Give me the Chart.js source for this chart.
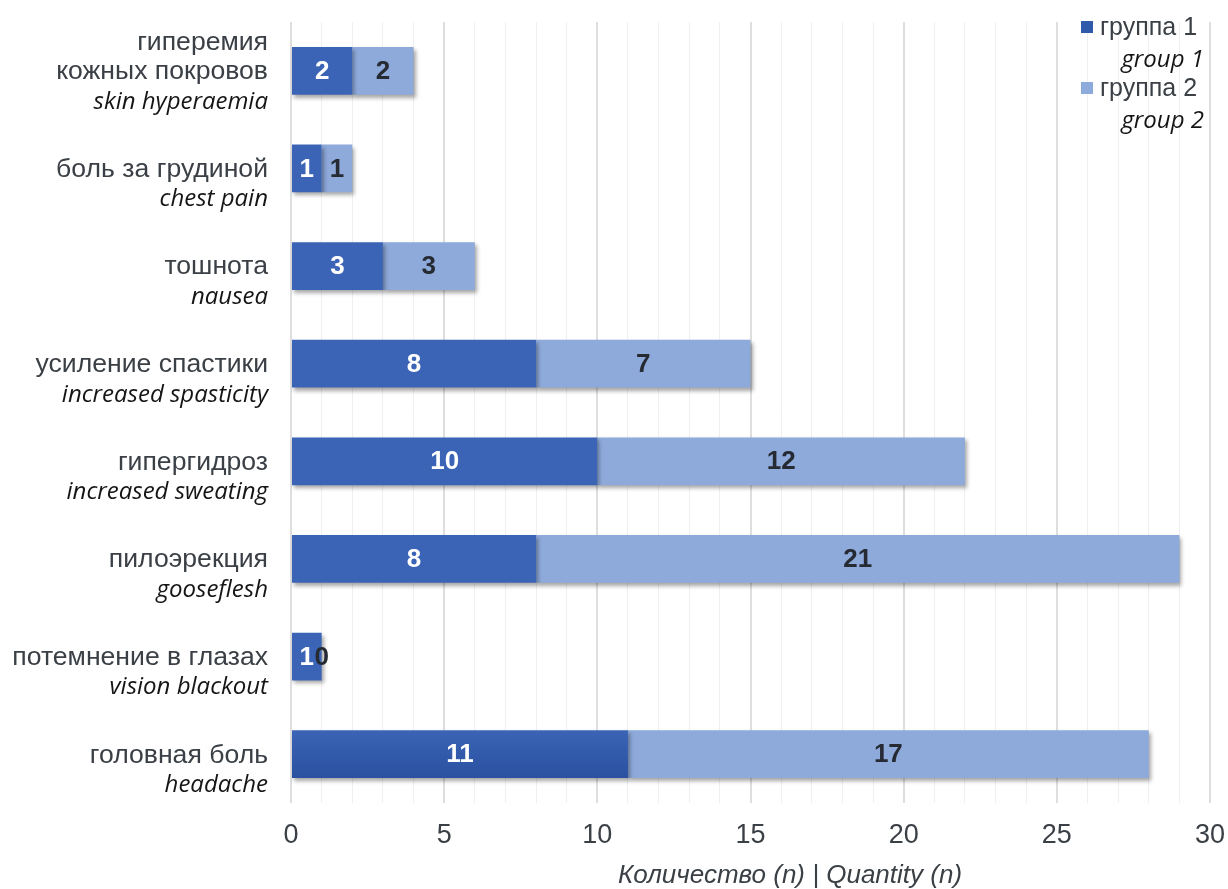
<!DOCTYPE html>
<html>
<head>
<meta charset="utf-8">
<script src="https://cdn.jsdelivr.net/npm/chart.js@4.4.1/dist/chart.umd.min.js"></script>
<style>
  body { margin: 0; background: #fff; }
  #wrap { width: 1228px; height: 889px; position: relative; }
</style>
</head>
<body>
<div id="wrap"><canvas id="chart"></canvas></div>
<script>
// categories, top to bottom
const labelsRu = [
    ['гиперемия', 'кожных покровов'],
    ['боль за грудиной'],
    ['тошнота'],
    ['усиление спастики'],
    ['гипергидроз'],
    ['пилоэрекция'],
    ['потемнение в глазах'],
    ['головная боль']
];
const labelsEn = ['skin hyperaemia', 'chest pain', 'nausea', 'increased spasticity',
    'increased sweating', 'gooseflesh', 'vision blackout', 'headache'];
const group1 = [2, 1, 3, 8, 10, 8, 1, 11];
const group2 = [2, 1, 3, 7, 12, 21, 0, 17];
const seriesRu = ['группа 1', 'группа 2'];
const seriesEn = ['group 1', 'group 2'];

const grayText = '#3b4046';
const darkBlue = '#2f59aa';
const lightBlue = '#8eaadb';
const sans = '"Liberation Sans", Arial, sans-serif';

// bar shadow + gradient on the dark series
const barStyle = {
    id: 'barStyle',
    beforeDatasetDraw(chart, args) {
        const ctx = chart.ctx;
        ctx.save();
        ctx.shadowColor = 'rgba(0,0,0,0.35)';
        ctx.shadowBlur = 4;
        ctx.shadowOffsetX = 2;
        ctx.shadowOffsetY = 3;
        if (args.index === 0) {
            args.meta.data.forEach(el => {
                const top = el.y - el.height / 2;
                const g = ctx.createLinearGradient(0, top, 0, top + el.height);
                g.addColorStop(0, '#3b64b6');
                g.addColorStop(1, '#2a51a0');
                el.options.backgroundColor = g;
            });
        }
    },
    afterDatasetDraw(chart) {
        chart.ctx.restore();
    }
};

const textStuff = {
    id: 'textStuff',
    afterDraw(chart) {
        const ctx = chart.ctx;
        const y = chart.scales.y;
        ctx.save();

        // category labels
        ctx.textAlign = 'right';
        ctx.textBaseline = 'middle';
        labelsRu.forEach((lines, i) => {
            const cy = y.getPixelForValue(i);
            ctx.font = '26.6px ' + sans;
            ctx.fillStyle = grayText;
            for (let k = 0; k < lines.length; k++) {
                ctx.fillText(lines[k], 268, cy - 29 * (lines.length - 1 - k) + 1);
            }
            ctx.font = 'italic 24px "Open Sans", sans-serif';
            ctx.fillStyle = '#151515';
            ctx.fillText(labelsEn[i], 268, cy + 31);
        });

        // value labels
        ctx.textAlign = 'center';
        ctx.font = 'bold 26px ' + sans;
        chart.data.datasets.forEach((ds, d) => {
            const meta = chart.getDatasetMeta(d);
            meta.data.forEach((el, i) => {
                const cx = (el.x + el.base) / 2;
                ctx.fillStyle = d === 0 ? '#ffffff' : '#262b33';
                ctx.fillText(String(ds.data[i]), cx, el.y + 1);
            });
        });

        // axis title
        ctx.font = 'italic 26px ' + sans;
        ctx.fillStyle = grayText;
        ctx.fillText('Количество (n) | Quantity (n)', 790, 876);

        // legend
        const colors = [darkBlue, lightBlue];
        [27, 88].forEach((ly, k) => {
            ctx.fillStyle = colors[k];
            ctx.fillRect(1081, ly - 6, 12, 12);
            ctx.textAlign = 'left';
            ctx.font = '25px ' + sans;
            ctx.fillStyle = grayText;
            ctx.fillText(seriesRu[k], 1100, ly + 1);
            ctx.textAlign = 'right';
            ctx.font = 'italic 24px "Open Sans", sans-serif';
            ctx.fillStyle = '#151515';
            ctx.fillText(seriesEn[k], 1204, ly + 33);
        });
        ctx.restore();
    }
};

const myChart = new Chart(document.getElementById('chart'), {
    type: 'bar',
    data: {
        labels: labelsEn,
        datasets: [
            { label: seriesRu[0], data: group1, backgroundColor: darkBlue },
            { label: seriesRu[1], data: group2, backgroundColor: lightBlue }
        ]
    },
    options: {
        indexAxis: 'y',
        responsive: true,
        maintainAspectRatio: false,
        animation: false,
        barPercentage: 0.7,
        categoryPercentage: 0.7,
        layout: { padding: { left: 291, right: 18, top: 22, bottom: 0 } },
        plugins: { legend: { display: false }, tooltip: { enabled: false } },
        scales: {
            x: {
                stacked: true,
                min: 0,
                max: 30,
                border: { display: false },
                grid: {
                    drawTicks: false,
                    color: c => c.tick && c.tick.value % 5 === 0 ? '#dedede' : '#efefef',
                    lineWidth: c => c.tick && c.tick.value % 5 === 0 ? 2 : 1
                },
                ticks: {
                    stepSize: 1,
                    autoSkip: false,
                    maxRotation: 0,
                    padding: 16,
                    color: grayText,
                    font: { family: sans, size: 27 },
                    callback: v => v % 5 === 0 ? v : ''
                },
                afterFit(scale) {
                    scale.height = 86;
                    scale.paddingLeft = 0;
                    scale.paddingRight = 0;
                }
            },
            y: {
                stacked: true,
                display: false
            }
        }
    },
    plugins: [barStyle, textStuff]
});
</script>
</body>
</html>
